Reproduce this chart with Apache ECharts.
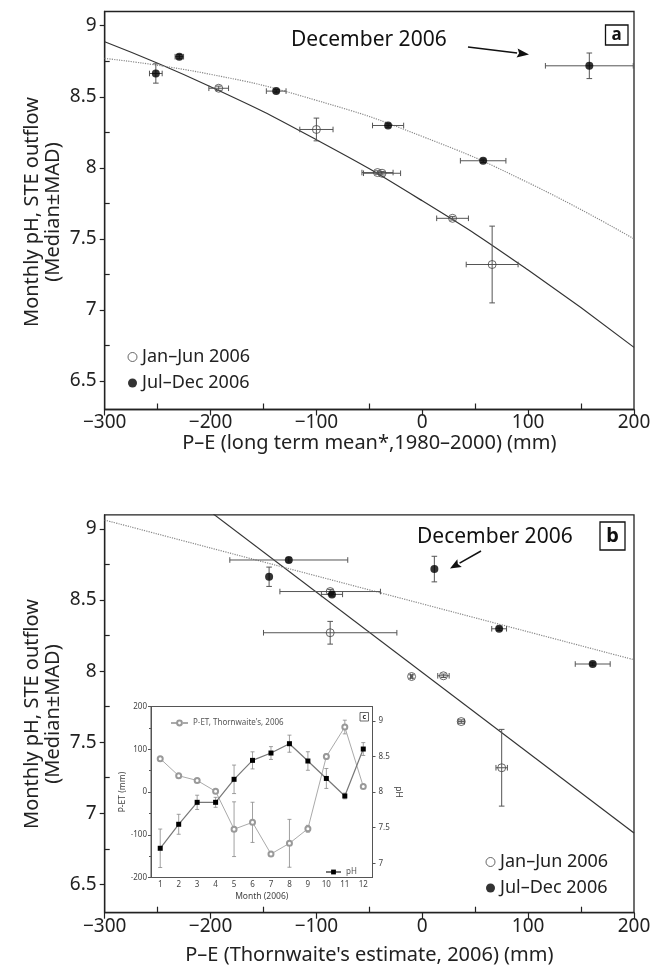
<!DOCTYPE html>
<html><head><meta charset="utf-8">
<script src="https://cdn.jsdelivr.net/npm/echarts@6/dist/echarts.min.js"></script>
<style>html,body{margin:0;padding:0;background:#fff}#c{width:656px;height:973px}</style>
</head><body><div id="c"></div>
<script>
// ---------- data ----------
// month index 0..11 = Jan..Dec 2006
const monthLabels = ['1','2','3','4','5','6','7','8','9','10','11','12'];
// monthly pH at STE outflow (median) and MAD, used in panels a and b
const phMedian = [7.32, 7.645, 7.967, 7.962, 8.27, 8.56, 8.664, 8.782, 8.54, 8.298, 8.05, 8.718];
const phMad    = [0.27, 0.012, 0.012, 0.012, 0.08, 0.015, 0.068, 0.015, 0.012, 0.012, 0.012, 0.09];
// panel a: P-E long term mean (mm) and its spread
const peLongTerm    = [66, 28.6, -42.3, -38, -100, -192.3, -251.7, -229.5, -138, -32.3, 57.5, 157.8];
const peLongTermErr = [24.5, 15, 14.7, 17.5, 15.7, 9.3, 6, 4, 9.3, 14.7, 21.5, 41.5];
// panel b: P-E Thornwaite's estimate 2006 (mm) and its spread
const peThorn    = [75, 36.8, 20, -10.1, -87, -87, -144.7, -126.1, -85.3, 72.6, 161, 11.4];
const peThornErr = [5.4, 3, 5.4, 1, 63, 47.5, 0, 55.7, 10, 7, 16.5, 0];
// fitted curves
const fitAx        = [-300, -200, -100, 0, 100, 200];
const fitAJanJunY  = [8.887, 8.571, 8.198, 7.768, 7.281, 6.737];
const fitAJulDecY  = [8.77, 8.658, 8.475, 8.221, 7.896, 7.5];
const fitBJanJunX  = [-197.3, 200];
const fitBJanJunY  = [9.105, 6.861];
const fitBJulDecX  = [-300, 200];
const fitBJulDecY  = [9.063, 8.08];
// inset c: monthly P-ET (Thornwaite, 2006) and monthly pH
const petMonthly    = [78, 38, 27, 1.5, -87, -71, -145, -120, -86, 83, 152, 13];
const petMonthlyErr = [5, 0, 3, 3, 64, 47, 0, 56, 8, 6, 16, 0];
const phMonthly     = [7.21, 7.547, 7.855, 7.855, 8.178, 8.444, 8.547, 8.678, 8.435, 8.19, 7.944, 8.603];
const phMonthlyErr  = [0.27, 0.14, 0.1, 0.07, 0.2, 0.12, 0.09, 0.12, 0.13, 0.14, 0.04, 0.09];
// tick values
const xMajor = [-300, -200, -100, 0, 100, 200];
const xMinor = [-250, -150, -50, 50, 150];
const yMajor = [6.5, 7, 7.5, 8, 8.5, 9];
const yMinor = [6.75, 7.25, 7.75, 8.25, 8.75];
const insetPhTicks = [7, 7.5, 8, 8.5, 9];

// ---------- helpers ----------
const FONT = 'Noto Sans';
const AX = '#222';
const janJun = [0,1,2,3,4,5], julDec = [6,7,8,9,10,11];
function pts(idx, xs, xe) { return idx.map(i => [xs[i], phMedian[i], xe[i], phMad[i]]); }
function errRender(params, api) {
  const x = api.value(0), y = api.value(1), ex = api.value(2), ey = api.value(3);
  const cap = 2.8, ch = [];
  const st = {stroke: '#555', lineWidth: 1};
  if (ex > 0) {
    const l = api.coord([x - ex, y]), r = api.coord([x + ex, y]);
    ch.push({type:'line', shape:{x1:l[0], y1:l[1], x2:r[0], y2:r[1]}, style:st});
    ch.push({type:'line', shape:{x1:l[0], y1:l[1]-cap, x2:l[0], y2:l[1]+cap}, style:st});
    ch.push({type:'line', shape:{x1:r[0], y1:r[1]-cap, x2:r[0], y2:r[1]+cap}, style:st});
  }
  if (ey > 0) {
    const t = api.coord([x, y + ey]), b = api.coord([x, y - ey]);
    ch.push({type:'line', shape:{x1:t[0], y1:t[1], x2:b[0], y2:b[1]}, style:st});
    ch.push({type:'line', shape:{x1:t[0]-cap, y1:t[1], x2:t[0]+cap, y2:t[1]}, style:st});
    ch.push({type:'line', shape:{x1:b[0]-cap, y1:b[1], x2:b[0]+cap, y2:b[1]}, style:st});
  }
  return {type:'group', children: ch};
}
function insetErrRender(params, api) {
  const x = api.value(0), y = api.value(1), ey = api.value(2);
  const cap = 2, st = {stroke: '#888', lineWidth: 0.8};
  if (!(ey > 0)) return {type:'group', children: []};
  const t = api.coord([x, y + ey]), b = api.coord([x, y - ey]);
  return {type:'group', children:[
    {type:'line', shape:{x1:t[0], y1:t[1], x2:b[0], y2:b[1]}, style:st},
    {type:'line', shape:{x1:t[0]-cap, y1:t[1], x2:t[0]+cap, y2:t[1]}, style:st},
    {type:'line', shape:{x1:b[0]-cap, y1:b[1], x2:b[0]+cap, y2:b[1]}, style:st}
  ]};
}
function mainX(g, name, gap) {
  return [
    {type:'value', gridIndex:g, min:-300, max:200, interval:100, position:'bottom',
     axisLine:{show:true, onZero:false, lineStyle:{color:AX, width:1.3}},
     axisTick:{show:true, inside:false, length:6, lineStyle:{color:AX, width:1.2}},
     axisLabel:{fontFamily:FONT, fontSize:19, color:AX, margin:4,
                formatter: v => (v < 0 ? '\u2212' + (-v) : '' + v)},
     splitLine:{show:false},
     name:name, nameLocation:'middle', nameGap:gap,
     nameTextStyle:{fontFamily:FONT, fontSize:20, color:AX}},
    {type:'value', gridIndex:g, min:-300, max:200, position:'bottom',
     axisLine:{show:false, onZero:false}, axisLabel:{show:false}, splitLine:{show:false},
     axisTick:{show:true, inside:true, length:6, customValues:xMinor, lineStyle:{color:AX, width:1.2}}}
  ];
}
function mainY(g) {
  return [
    {type:'value', gridIndex:g, min:6.3, max:9.1, position:'left',
     axisLine:{show:true, onZero:false, lineStyle:{color:AX, width:1.3}},
     axisTick:{show:true, inside:false, length:5, customValues:yMajor, lineStyle:{color:AX, width:1.2}},
     axisLabel:{fontFamily:FONT, fontSize:19, color:AX, margin:8, customValues:yMajor},
     splitLine:{show:false}},
    {type:'value', gridIndex:g, min:6.3, max:9.1, position:'left',
     axisLine:{show:false, onZero:false}, axisLabel:{show:false}, splitLine:{show:false},
     axisTick:{show:true, inside:true, length:5, customValues:yMinor, lineStyle:{color:AX, width:1.2}}}
  ];
}
function panelSeries(xi, yi, xs, xe, solidX, solidY, dotX, dotY) {
  return [
    {type:'custom', name:'errA'+xi, xAxisIndex:xi, yAxisIndex:yi, renderItem:errRender,
     data: pts(janJun, xs, xe).concat(pts(julDec, xs, xe)), silent:true, z:2},
    {type:'line', name:'fitSolid'+xi, xAxisIndex:xi, yAxisIndex:yi, smooth:true, symbol:'none',
     data: solidX.map((x,i)=>[x, solidY[i]]), lineStyle:{color:'#333', width:1.2}, silent:true, z:1},
    {type:'line', name:'fitDot'+xi, xAxisIndex:xi, yAxisIndex:yi, smooth:true, symbol:'none',
     data: dotX.map((x,i)=>[x, dotY[i]]), lineStyle:{color:'#888', width:1.2, type:'dotted'}, silent:true, z:1},
    {type:'scatter', name:'Jan\u2013Jun 2006', xAxisIndex:xi, yAxisIndex:yi, symbol:'circle', symbolSize:8,
     itemStyle:{color:'rgba(0,0,0,0)', borderColor:'#444', borderWidth:1},
     data: janJun.map(i=>[xs[i], phMedian[i]]), z:3},
    {type:'scatter', name:'Jul\u2013Dec 2006', xAxisIndex:xi, yAxisIndex:yi, symbol:'circle', symbolSize:8,
     itemStyle:{color:'#000'}, data: julDec.map(i=>[xs[i], phMedian[i]]), z:3}
  ];
}
function arrow(x1, y1, x2, y2, len, half) {
  const dx = x2 - x1, dy = y2 - y1, L = Math.hypot(dx, dy), ux = dx / L, uy = dy / L;
  const bx = x2 - ux * len, by = y2 - uy * len, nx = -uy, ny = ux;
  return [
    {type:'line', shape:{x1, y1, x2:bx, y2:by}, style:{stroke:'#111', lineWidth:1.5}},
    {type:'polygon', shape:{points:[[x2,y2],[bx+nx*half, by+ny*half],[bx+ux*2, by+uy*2],[bx-nx*half, by-ny*half]]},
     style:{fill:'#111'}}
  ];
}
const legendItems = [
  {name:'Jan\u2013Jun 2006', itemStyle:{color:'rgba(0,0,0,0)', borderColor:'#444', borderWidth:1}},
  {name:'Jul\u2013Dec 2006', itemStyle:{color:'#000'}}
];
function mainLegend(left, top) {
  return {data: legendItems, left, top, orient:'vertical', itemWidth:9, itemHeight:9, itemGap:4,
          icon:'circle', selectedMode:false,
          textStyle:{fontFamily:FONT, fontSize:18, color:AX, lineHeight:22}};
}
const TITLE_FONT = '20px "Noto Sans"';

const chart = echarts.init(document.getElementById('c'), null, {renderer:'canvas'});
const option = {
  animation:false,
  backgroundColor:'#fff',
  grid:[
    {left:104.7, right:22, top:11.5, bottom:563.5, show:true, borderColor:AX, borderWidth:1.3, backgroundColor:'transparent'},
    {left:104.7, right:22, top:514.8, bottom:60.3, show:true, borderColor:AX, borderWidth:1.3, backgroundColor:'transparent'},
    {left:151, right:283.5, top:706.5, bottom:95.5, show:true, borderColor:'#555', borderWidth:1, backgroundColor:'#fff'}
  ],
  xAxis: [].concat(
    mainX(0, 'P\u2013E (long term mean*,1980\u20132000) (mm)', 22),
    mainX(1, "P\u2013E (Thornwaite's estimate, 2006) (mm)", 33),
    [{type:'category', gridIndex:2, data:monthLabels, boundaryGap:true, position:'bottom',
      axisLine:{onZero:false, lineStyle:{color:'#555', width:1}},
      axisTick:{alignWithLabel:true, inside:false, length:3, lineStyle:{color:'#555'}},
      axisLabel:{fontFamily:FONT, fontSize:8, color:'#444', margin:3},
      name:'Month (2006)', nameLocation:'middle', nameGap:15,
      nameTextStyle:{fontFamily:FONT, fontSize:8.5, color:'#444'}}]
  ),
  yAxis: [].concat(
    mainY(0), mainY(1),
    [{type:'value', gridIndex:2, min:-200, max:200, interval:100, position:'left',
      axisLine:{show:true, onZero:false, lineStyle:{color:'#555', width:1}},
      axisTick:{show:true, inside:false, length:3, lineStyle:{color:'#555'}},
      minorTick:{show:true, splitNumber:2, length:2, lineStyle:{color:'#555'}},
      axisLabel:{fontFamily:FONT, fontSize:8, color:'#444', margin:4},
      splitLine:{show:false},
      name:'P-ET (mm)', nameLocation:'middle', nameGap:21, nameRotate:90,
      nameTextStyle:{fontFamily:FONT, fontSize:8.5, color:'#444'}},
     {type:'value', gridIndex:2, min:6.8, max:9.2, position:'right',
      axisLine:{show:true, onZero:false, lineStyle:{color:'#555', width:1}},
      axisTick:{show:true, inside:false, length:3, customValues:insetPhTicks, lineStyle:{color:'#555'}},
      axisLabel:{fontFamily:FONT, fontSize:8, color:'#444', margin:6, customValues:insetPhTicks},
      splitLine:{show:false},
      name:'pH', nameLocation:'middle', nameGap:17, nameRotate:-90,
      nameTextStyle:{fontFamily:FONT, fontSize:8.5, color:'#444'}}]
  ),
  legend:[
    mainLegend(122.5, 341),
    mainLegend(480.5, 846),
    {data:[{name:"P-ET, Thornwaite's, 2006", lineStyle:{type:'dashed'}}], left:165, top:714, itemWidth:17, itemHeight:6, itemGap:4, selectedMode:false,
     textStyle:{fontFamily:FONT, fontSize:8, color:'#555'}},
    {data:['pH'], left:320, top:863, itemWidth:15, itemHeight:6, selectedMode:false,
     textStyle:{fontFamily:FONT, fontSize:8, color:'#555'}}
  ],
  series: [].concat(
    panelSeries(0, 0, peLongTerm, peLongTermErr, fitAx, fitAJanJunY, fitAx, fitAJulDecY),
    panelSeries(2, 2, peThorn, peThornErr, fitBJanJunX, fitBJanJunY, fitBJulDecX, fitBJulDecY),
    [
      {type:'custom', name:'petErr', xAxisIndex:4, yAxisIndex:4, renderItem:insetErrRender, silent:true, z:4,
       data: petMonthly.map((v,i)=>[i, v, petMonthlyErr[i]])},
      {type:'custom', name:'phErr', xAxisIndex:4, yAxisIndex:5, renderItem:insetErrRender, silent:true, z:4,
       data: phMonthly.map((v,i)=>[i, v, phMonthlyErr[i]])},
      {type:'line', name:"P-ET, Thornwaite's, 2006", xAxisIndex:4, yAxisIndex:4, z:5,
       symbol:'emptyCircle', symbolSize:5, lineStyle:{color:'#aaa', width:1},
       itemStyle:{color:'#999', borderColor:'#999', borderWidth:1}, data: petMonthly},
      {type:'line', name:'pH', xAxisIndex:4, yAxisIndex:5, z:6,
       symbol:'rect', symbolSize:5, lineStyle:{color:'#777', width:1.2},
       itemStyle:{color:'#000'}, data: phMonthly}
    ]
  ),
  graphic: [].concat(
    [
      {type:'text', x:32, y:212, rotation:Math.PI/2, style:{text:'Monthly pH, STE outflow', font:TITLE_FONT, fill:AX, textAlign:'center', textVerticalAlign:'middle'}},
      {type:'text', x:53, y:212, rotation:Math.PI/2, style:{text:'(Median\u00b1MAD)', font:TITLE_FONT, fill:AX, textAlign:'center', textVerticalAlign:'middle'}},
      {type:'text', x:32, y:714, rotation:Math.PI/2, style:{text:'Monthly pH, STE outflow', font:TITLE_FONT, fill:AX, textAlign:'center', textVerticalAlign:'middle'}},
      {type:'text', x:53, y:714, rotation:Math.PI/2, style:{text:'(Median\u00b1MAD)', font:TITLE_FONT, fill:AX, textAlign:'center', textVerticalAlign:'middle'}},
      {type:'text', x:291, y:40, style:{text:'December 2006', font:'21px "Noto Sans"', fill:'#111', textAlign:'left', textVerticalAlign:'middle'}},
      {type:'text', x:417, y:537, style:{text:'December 2006', font:'21px "Noto Sans"', fill:'#111', textAlign:'left', textVerticalAlign:'middle'}},
      {type:'rect', shape:{x:605.5, y:25, width:22.5, height:20}, style:{fill:'#fff', stroke:'#111', lineWidth:1.3}},
      {type:'text', x:616.7, y:35, style:{text:'a', font:'bold 17px "Noto Sans"', fill:'#111', textAlign:'center', textVerticalAlign:'middle'}},
      {type:'rect', shape:{x:600, y:522, width:25, height:28}, style:{fill:'#fff', stroke:'#111', lineWidth:1.3}},
      {type:'text', x:612.5, y:536, style:{text:'b', font:'bold 20px "Noto Sans"', fill:'#111', textAlign:'center', textVerticalAlign:'middle'}},
      {type:'rect', shape:{x:360, y:712.5, width:8.5, height:8.5}, style:{fill:'#fff', stroke:'#444', lineWidth:0.8}},
      {type:'text', x:364.2, y:716.8, style:{text:'c', font:'bold 7px "Noto Sans"', fill:'#333', textAlign:'center', textVerticalAlign:'middle'}}
    ],
    arrow(468, 47, 529, 54.5, 12, 4.5),
    arrow(481, 551, 450, 568.5, 11, 4.5)
  )
};
chart.setOption(option);
</script>
</body></html>
